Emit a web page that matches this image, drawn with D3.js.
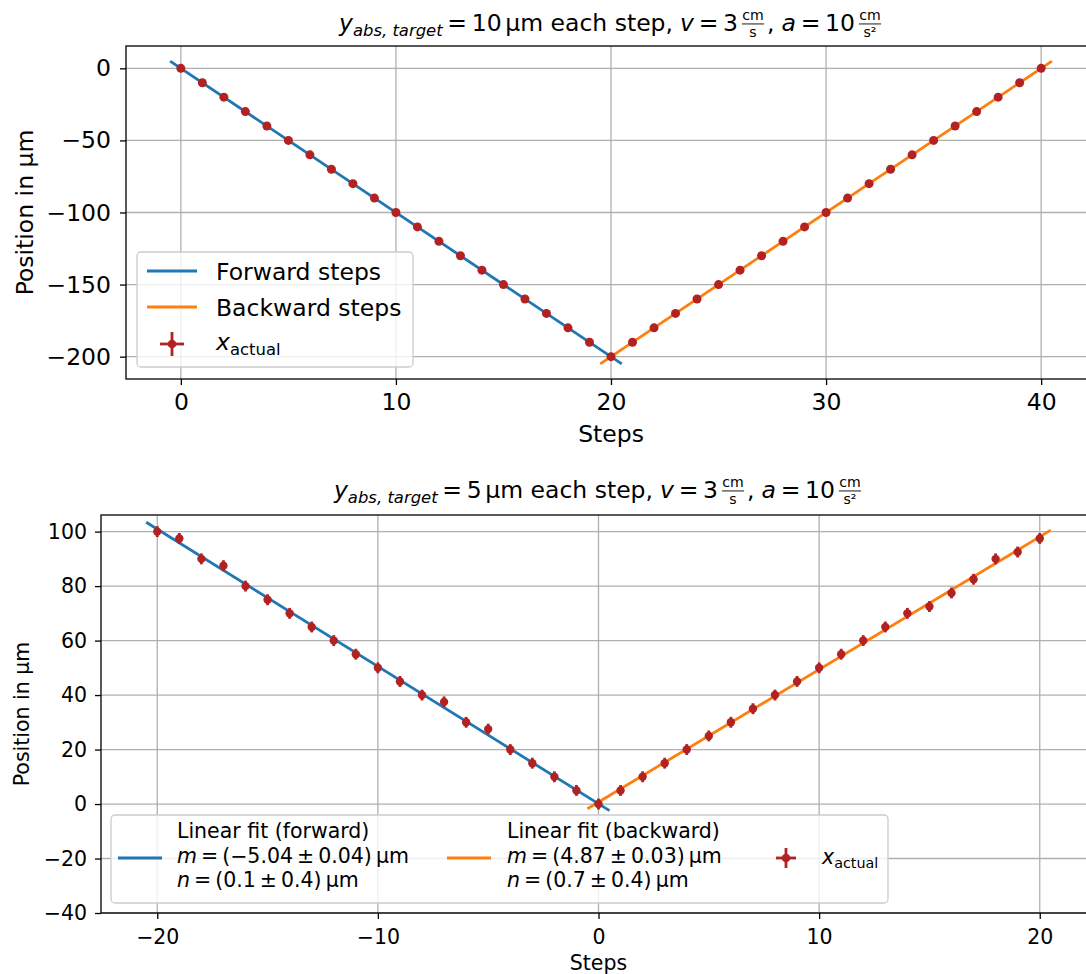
<!DOCTYPE html>
<html>
<head>
<meta charset="utf-8">
<script src="https://cdn.jsdelivr.net/npm/d3@7"></script>
<style>
  body { margin: 0; background: #fff; }
  text { font-family: "DejaVu Sans", sans-serif; fill: #000; }
</style>
</head>
<body>
<div id="chart"></div>
<script>
// ---- top panel: 10 um per step ----
var topSteps = [0,1,2,3,4,5,6,7,8,9,10,11,12,13,14,15,16,17,18,19,20,
                21,22,23,24,25,26,27,28,29,30,31,32,33,34,35,36,37,38,39,40];
var topPos = [0,-10,-20,-30,-40,-50,-60,-70,-80,-90,-100,-110,-120,-130,-140,-150,-160,-170,-180,-190,-200,
              -190,-180,-170,-160,-150,-140,-130,-120,-110,-100,-90,-80,-70,-60,-50,-40,-30,-20,-10,0];
var topYErr = 1;
var topXErr = 0.1;
// slope, intercept, start step, end step
var topFitForward = [-10, 0, -0.5, 20.5];
var topFitBackward = [10, -400, 19.5, 40.5];
var topXTicks = [0, 10, 20, 30, 40];
var topYTicks = [0, -50, -100, -150, -200];

// ---- bottom panel: 5 um per step ----
var bottomSteps = [-20,-19,-18,-17,-16,-15,-14,-13,-12,-11,-10,-9,-8,-7,-6,-5,-4,-3,-2,-1,0,
                   1,2,3,4,5,6,7,8,9,10,11,12,13,14,15,16,17,18,19,20];
var bottomPos = [100,97.5,90,87.5,80,75,70,65,60,55,50,45,40,37.5,30,27.5,20,15,10,5,0,
                 5,10,15,20,25,30,35,40,45,50,55,60,65,70,72.5,77.5,82.5,90,92.5,97.5];
var bottomYErr = 2;
var bottomXErr = 0.1;
var bottomFitForward = [-5.04, 0.1, -20.5, 0.5];
var bottomFitBackward = [4.87, 0.7, -0.5, 20.5];
var bottomXTicks = [-20, -10, 0, 10, 20];
var bottomYTicks = [-40, -20, 0, 20, 40, 60, 80, 100];

var blue = "#1f77b4", orange = "#ff7f0e", red = "#b22222", gridColor = "#b0b0b0";

var svg = d3.select("#chart").append("svg")
  .attr("width", 1086).attr("height", 974);

// lay out a run of text pieces (with simple fractions) centred at cx
function mathText(parent, cx, base, size, runs) {
  var g = parent.append("g");
  var xc = 0;
  runs.forEach(function (r) {
    if (r.gap) { xc += r.gap * size; return; }
    if (r.frac) {
      var fs = size * 0.6;
      // numerator and denominator in one text element
      var ft = g.append("text").attr("font-size", fs).attr("text-anchor", "middle");
      var num = ft.append("tspan").text(r.frac[0]);
      var den = ft.append("tspan").text(r.frac[1]);
      var w = Math.max(num.node().getComputedTextLength(), den.node().getComputedTextLength()) + 0.2 * size;
      var bar = base - size * 0.3;
      num.attr("x", xc + w / 2).attr("y", bar - size * 0.16);
      den.attr("x", xc + w / 2).attr("y", bar + size * 0.57);
      g.append("line").attr("x1", xc + 2).attr("x2", xc + w - 2).attr("y1", bar).attr("y2", bar)
        .attr("stroke", "#000").attr("stroke-width", 0.9);
      xc += w;
      return;
    }
    var t = g.append("text")
      .attr("x", xc).attr("y", base + (r.dy || 0) * size)
      .attr("font-size", size * (r.s || 1))
      .attr("font-style", r.it ? "italic" : "normal")
      .text(r.t);
    xc += t.node().getComputedTextLength();
  });
  g.attr("transform", "translate(" + (cx - xc / 2) + ",0)");
  return g;
}

function titleRuns(stepText) {
  return [
    {t: "y", it: true}, {t: "abs, target", it: true, s: 0.7, dy: 0.2},
    {gap: 0.2}, {t: "="}, {gap: 0.2}, {t: stepText}, {gap: 0.15}, {t: "µm each step,"},
    {gap: 0.3}, {t: "v", it: true}, {gap: 0.2}, {t: "="}, {gap: 0.2}, {t: "3"}, {gap: 0.08},
    {frac: ["cm", "s"]}, {gap: 0.04}, {t: ","}, {gap: 0.3},
    {t: "a", it: true}, {gap: 0.2}, {t: "="}, {gap: 0.2}, {t: "10"}, {gap: 0.08},
    {frac: ["cm", "s²"]}
  ];
}

function drawPanel(p) {
  var x = d3.scaleLinear().domain(p.xDomain).range([p.left, p.right]);
  var y = d3.scaleLinear().domain(p.yDomain).range([p.bottom, p.top]);
  var g = svg.append("g");

  var clipId = "clip" + p.id;
  g.append("clipPath").attr("id", clipId).append("rect")
    .attr("x", p.left).attr("y", p.top)
    .attr("width", p.right - p.left).attr("height", p.bottom - p.top);

  // grid
  g.append("g").selectAll("line").data(p.xTicks).join("line")
    .attr("x1", function (d) { return x(d); }).attr("x2", function (d) { return x(d); })
    .attr("y1", p.top).attr("y2", p.bottom)
    .attr("stroke", gridColor).attr("stroke-width", 1.3);
  g.append("g").selectAll("line").data(p.yTicks).join("line")
    .attr("y1", function (d) { return y(d); }).attr("y2", function (d) { return y(d); })
    .attr("x1", p.left).attr("x2", p.right)
    .attr("stroke", gridColor).attr("stroke-width", 1.3);

  var plot = g.append("g").attr("clip-path", "url(#" + clipId + ")");

  // fit lines
  var line = d3.line().x(function (d) { return x(d[0]); }).y(function (d) { return y(d[1]); });
  [[p.fitF, blue], [p.fitB, orange]].forEach(function (f) {
    var m = f[0][0], n = f[0][1];
    plot.append("path")
      .attr("d", line([[f[0][2], m * f[0][2] + n], [f[0][3], m * f[0][3] + n]]))
      .attr("stroke", f[1]).attr("stroke-width", 2.8).attr("fill", "none");
  });

  // measured points with error bars
  var pts = plot.append("g").selectAll("g").data(d3.zip(p.steps, p.pos)).join("g");
  pts.append("line")
    .attr("x1", function (d) { return x(d[0]); }).attr("x2", function (d) { return x(d[0]); })
    .attr("y1", function (d) { return y(d[1] - p.yErr); }).attr("y2", function (d) { return y(d[1] + p.yErr); })
    .attr("stroke", red).attr("stroke-width", 2.8);
  pts.append("line")
    .attr("y1", function (d) { return y(d[1]); }).attr("y2", function (d) { return y(d[1]); })
    .attr("x1", function (d) { return x(d[0] - p.xErr); }).attr("x2", function (d) { return x(d[0] + p.xErr); })
    .attr("stroke", red).attr("stroke-width", 2.8);
  pts.append("circle")
    .attr("cx", function (d) { return x(d[0]); }).attr("cy", function (d) { return y(d[1]); })
    .attr("r", p.r).attr("fill", red);

  // axes
  var ax = g.append("g").attr("transform", "translate(0," + p.bottom + ")")
    .call(d3.axisBottom(x).tickValues(p.xTicks).tickSize(6).tickPadding(p.padX).tickFormat(d3.format("d")));
  var ay = g.append("g").attr("transform", "translate(" + p.left + ",0)")
    .call(d3.axisLeft(y).tickValues(p.yTicks).tickSize(6).tickPadding(p.padY).tickFormat(d3.format("d")));
  [ax, ay].forEach(function (a) {
    a.select(".domain").remove();
    a.attr("font-family", "DejaVu Sans").attr("font-size", p.fs);
    a.selectAll("line").attr("stroke", "#000").attr("stroke-width", 1.3);
    a.selectAll("text").attr("fill", "#000");
  });

  // spines
  g.append("rect").attr("x", p.left).attr("y", p.top)
    .attr("width", p.right - p.left).attr("height", p.bottom - p.top)
    .attr("fill", "none").attr("stroke", "#000").attr("stroke-width", 1.3);

  // labels
  g.append("text").attr("x", (p.left + p.right) / 2).attr("y", p.xLabelY)
    .attr("text-anchor", "middle").attr("font-size", p.fs).text("Steps");
  g.append("text").attr("transform", "translate(" + p.yLabelX + "," + (p.top + p.bottom) / 2 + ") rotate(-90)")
    .attr("text-anchor", "middle").attr("font-size", p.fs).text("Position in µm");

  mathText(g, (p.left + p.right) / 2, p.titleY, p.titleFs, titleRuns(p.stepText));
  return g;
}

function errHandle(g, cx, cy, half) {
  g.append("line").attr("x1", cx - half).attr("x2", cx + half).attr("y1", cy).attr("y2", cy)
    .attr("stroke", red).attr("stroke-width", 2.8);
  g.append("line").attr("x1", cx).attr("x2", cx).attr("y1", cy - half).attr("y2", cy + half)
    .attr("stroke", red).attr("stroke-width", 2.8);
  g.append("circle").attr("cx", cx).attr("cy", cy).attr("r", 4.3).attr("fill", red);
}

function xActual(g, x0, base, fs) {
  var t = g.append("text").attr("x", x0).attr("y", base).attr("font-size", fs);
  t.append("tspan").attr("font-style", "italic").text("x");
  t.append("tspan").attr("font-size", fs * 0.7).attr("dy", fs * 0.2).text("actual");
}

// ---- top panel ----
var gTop = drawPanel({
  id: "top", left: 126, right: 1096, top: 46, bottom: 379,
  xDomain: [-2.55, 42.55], yDomain: [-215.5, 15.5],
  xTicks: topXTicks, yTicks: topYTicks,
  steps: topSteps, pos: topPos, yErr: topYErr, xErr: topXErr,
  fitF: topFitForward, fitB: topFitBackward, r: 4.5,
  fs: 23.5, padX: 8, padY: 9, xLabelY: 442, yLabelX: 33,
  titleY: 31, titleFs: 23.5, stepText: "10"
});

var legTop = gTop.append("g");
legTop.append("rect").attr("x", 137).attr("y", 252).attr("width", 276).attr("height", 115)
  .attr("rx", 4).attr("fill", "#fff").attr("fill-opacity", 0.8)
  .attr("stroke", "#cccccc").attr("stroke-width", 1.3);
[["Forward steps", blue, 271], ["Backward steps", orange, 307]].forEach(function (e) {
  legTop.append("line").attr("x1", 147).attr("x2", 197).attr("y1", e[2]).attr("y2", e[2])
    .attr("stroke", e[1]).attr("stroke-width", 2.8);
  legTop.append("text").attr("x", 216).attr("y", e[2] + 8.5).attr("font-size", 23.5).text(e[0]);
});
errHandle(legTop, 172, 344, 12);
xActual(legTop, 216, 350, 23.5);

// ---- bottom panel ----
var gBot = drawPanel({
  id: "bot", left: 101, right: 1096, top: 515, bottom: 913,
  xDomain: [-22.55, 22.55], yDomain: [-40, 106.1],
  xTicks: bottomXTicks, yTicks: bottomYTicks,
  steps: bottomSteps, pos: bottomPos, yErr: bottomYErr, xErr: bottomXErr,
  fs: 20.5, padX: 10, padY: 8, xLabelY: 970, yLabelX: 29, r: 4.2,
  fitF: bottomFitForward, fitB: bottomFitBackward,
  titleY: 498, titleFs: 23.5, stepText: "5"
});

var legBot = gBot.append("g");
legBot.append("rect").attr("x", 111).attr("y", 815).attr("width", 777).attr("height", 88)
  .attr("rx", 4).attr("fill", "#fff").attr("fill-opacity", 0.8)
  .attr("stroke", "#cccccc").attr("stroke-width", 1.3);

var fitLegend = [
  [118, 177, blue, "Linear fit (forward)", "(−5.04 ± 0.04) µm", "(0.1 ± 0.4) µm"],
  [447, 507, orange, "Linear fit (backward)", "(4.87 ± 0.03) µm", "(0.7 ± 0.4) µm"]
];
fitLegend.forEach(function (e) {
  legBot.append("line").attr("x1", e[0]).attr("x2", e[0] + 44).attr("y1", 858).attr("y2", 858)
    .attr("stroke", e[2]).attr("stroke-width", 2.8);
  legBot.append("text").attr("x", e[1]).attr("y", 838).attr("font-size", 20.5).text(e[3]);
  var t2 = legBot.append("text").attr("x", e[1]).attr("y", 863).attr("font-size", 20.5)
    .attr("word-spacing", -2.5);
  t2.append("tspan").attr("font-style", "italic").text("m");
  t2.append("tspan").text(" = " + e[4]);
  var t3 = legBot.append("text").attr("x", e[1]).attr("y", 887).attr("font-size", 20.5)
    .attr("word-spacing", -2.5);
  t3.append("tspan").attr("font-style", "italic").text("n");
  t3.append("tspan").text(" = " + e[5]);
});
errHandle(legBot, 786, 858, 10);
xActual(legBot, 822, 864, 20.5);
</script>
</body>
</html>
